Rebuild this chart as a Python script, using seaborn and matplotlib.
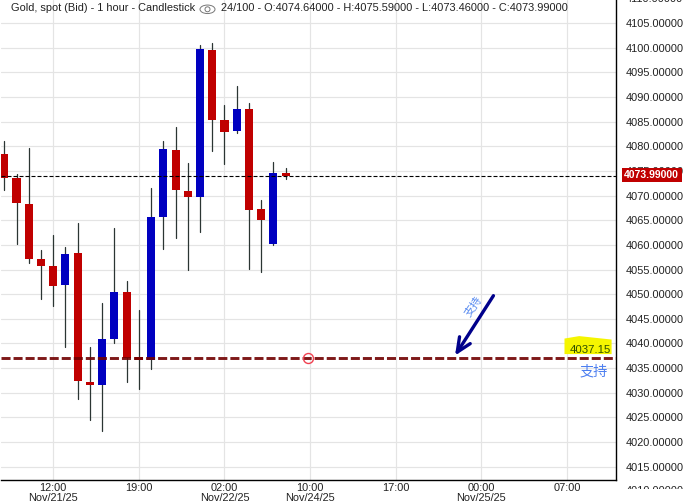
import matplotlib
matplotlib.use("Agg")
import matplotlib.pyplot as plt
from matplotlib.patches import Ellipse, Polygon, Rectangle
from matplotlib.transforms import Bbox
import numpy as np
import pandas as pd
import seaborn as sns

# Candle values
opens = [4078.5, 4073.6, 4068.3, 4057.1, 4055.7, 4051.85, 4058.35, 4032.15, 4031.55, 4040.9, 4050.4, 4037.3,
         4036.6, 4065.7, 4079.3, 4070.9, 4069.7, 4099.6, 4085.4, 4083.1, 4087.6, 4067.3, 4060.2, 4074.64]
closes = [4073.6, 4068.6, 4057.1, 4055.7, 4051.65, 4058.15, 4032.4, 4031.55, 4040.9, 4050.4, 4037.0, 4036.6,
          4065.7, 4079.5, 4071.15, 4069.7, 4099.8, 4085.4, 4082.9, 4087.6, 4067.1, 4065.1, 4074.6, 4073.99]
highs = [4081.1, 4074.4, 4079.7, 4059.0, 4062.0, 4059.6, 4064.45, 4039.3, 4048.2, 4063.4, 4052.7, 4046.8,
         4071.55, 4081.1, 4083.9, 4076.6, 4100.6, 4101.0, 4088.4, 4092.3, 4088.8, 4069.1, 4076.8, 4075.59]
lows = [4071.2, 4060.2, 4056.4, 4049.0, 4047.6, 4039.3, 4028.7, 4024.4, 4022.2, 4040.1, 4032.15, 4030.7,
        4034.8, 4059.2, 4061.4, 4054.9, 4062.6, 4079.1, 4076.4, 4082.7, 4055.1, 4054.5, 4060.0, 4073.46]

last_price = 4073.99
support = 4037.15
y_ticks = list(range(4015, 4110, 5))
x_tick_pos = [4, 11, 18, 25, 32, 39, 46]
x_tick_labels = ["12:00\nNov/21/25", "19:00", "02:00\nNov/22/25", "10:00\nNov/24/25",
                 "17:00", "00:00\nNov/25/25", "07:00"]
header = "Gold, spot (Bid) - 1 hour - Candlestick"
ohlc_text = "24/100 - O:4074.64000 - H:4075.59000 - L:4073.46000 - C:4073.99000"

sns.set_theme(style="whitegrid", rc={"grid.color": "#e4e4e4", "grid.linewidth": 0.85})
plt.rcParams["font.family"] = ["Liberation Sans", "Noto Sans CJK SC", "DejaVu Sans"]

fig = plt.figure(figsize=(6.85, 5.04), dpi=100)
ax = fig.add_axes([1 / 685, 24 / 504, 614.5 / 685, 480 / 504])
ax.set_xlim(-0.27, 49.97)
ax.set_ylim(4012.3, 4109.7)
ax.set_axisbelow(True)

wicks = pd.DataFrame({
    "i": list(range(len(highs))) * 2,
    "price": highs + lows,
})
sns.lineplot(data=wicks, x="i", y="price", units="i", estimator=None, sort=False,
             color="#2b3533", linewidth=0.9, ax=ax, legend=False)

idx = np.arange(len(opens))
o = np.array(opens)
c = np.array(closes)
body_colors = ["#0000c0" if b > a else "#c00000" for a, b in zip(o, c)]
ax.bar(idx, np.abs(c - o), bottom=np.minimum(o, c), width=0.66, color=body_colors, linewidth=0, zorder=3)

# last price and support lines
ax.axhline(last_price, color="black", linewidth=0.8, linestyle=(0, (3.6, 1.8)), zorder=4)
ax.axhline(support, color="#700000", alpha=0.9, linewidth=2.1, linestyle=(0, (3.1, 1.03)), zorder=4)

ax.set_xticks(x_tick_pos)
ax.set_xticklabels(x_tick_labels, fontsize=7.9, color="#222222", linespacing=1.0)
ax.set_yticks(y_ticks)
ax.set_yticklabels([f"{v:.5f}" for v in y_ticks], fontsize=7.9, color="#222222")
ax.yaxis.tick_right()
ax.tick_params(axis="x", length=0, pad=2.5)
ax.tick_params(axis="y", length=0, pad=7.5)
ax.set_xlabel("")
ax.set_ylabel("")
for name in ["left", "top"]:
    ax.spines[name].set_visible(False)
for name in ["right", "bottom"]:
    ax.spines[name].set_color("black")
    ax.spines[name].set_linewidth(1.0)

yax = ax.get_yaxis_transform()
# labels that the chart cuts off at its edges
for v in [4110, 4010]:
    t = ax.text(1.0171, v, f"{v:.5f}", transform=yax, fontsize=7.9, color="#222222", va="center", ha="left",
                clip_on=True, zorder=1)
    t.set_clip_box(Bbox([[0, 504 - 489], [685, 504]]))

# last price tag
fig.add_artist(Rectangle((622 / 685, 1 - 182 / 504), 60 / 685, 14 / 504, transform=fig.transFigure,
                         facecolor="#c00000", edgecolor="none", zorder=5))
fig.text(651.5 / 685, 1 - 175 / 504, f"{last_price:.5f}", fontsize=7.5, color="white", fontweight="bold",
         va="center", ha="center", zorder=6)

# header
fig.text(11 / 685, 1 - 8 / 504, header, fontsize=7.9, color="#222222", va="center", ha="left")
fig.text(221 / 685, 1 - 8 / 504, ohlc_text, fontsize=7.9, color="#222222", va="center", ha="left")
fig.add_artist(Ellipse((207.5 / 685, 1 - 9.3 / 504), 15 / 685, 8.5 / 504, transform=fig.transFigure,
                       facecolor="none", edgecolor="#777777", linewidth=0.7))
fig.add_artist(Ellipse((207.5 / 685, 1 - 9.3 / 504), 5 / 685, 5 / 504, transform=fig.transFigure,
                       facecolor="none", edgecolor="#777777", linewidth=0.7))

# annotations on the support line
ax.plot([24.85], [support], marker="o", markersize=7.2, markerfacecolor="none", markeredgecolor="#f04050",
        markeredgewidth=1.0, zorder=5)
ax.annotate("", xy=(36.85, support + 0.4), xytext=(39.99, 4049.7),
            arrowprops=dict(arrowstyle="->,head_length=0.85,head_width=0.38", color="#00008b", lw=2.4,
                            shrinkA=0, shrinkB=0), zorder=6)
ax.text(38.4, 4047.4, "支持", fontsize=8, color="#5a8cf0", rotation=55, ha="center", va="center", zorder=6)
ax.text(48.22, 4034.3, "支持", fontsize=10.2, color="#4d7ff0", ha="center", va="center", zorder=6)
ax.add_patch(Polygon([(45.8, 4037.85), (45.8, 4041.0), (47, 4041.5), (49.65, 4040.8), (49.65, 4037.85)],
                     closed=True, facecolor="#f5f500", edgecolor="none", zorder=2))
ax.text(49.6, 4038.7, f"{support:.2f}", fontsize=8.2, color="#2f5000", ha="right", va="center", zorder=6)

fig.savefig("out.png", dpi=100)
